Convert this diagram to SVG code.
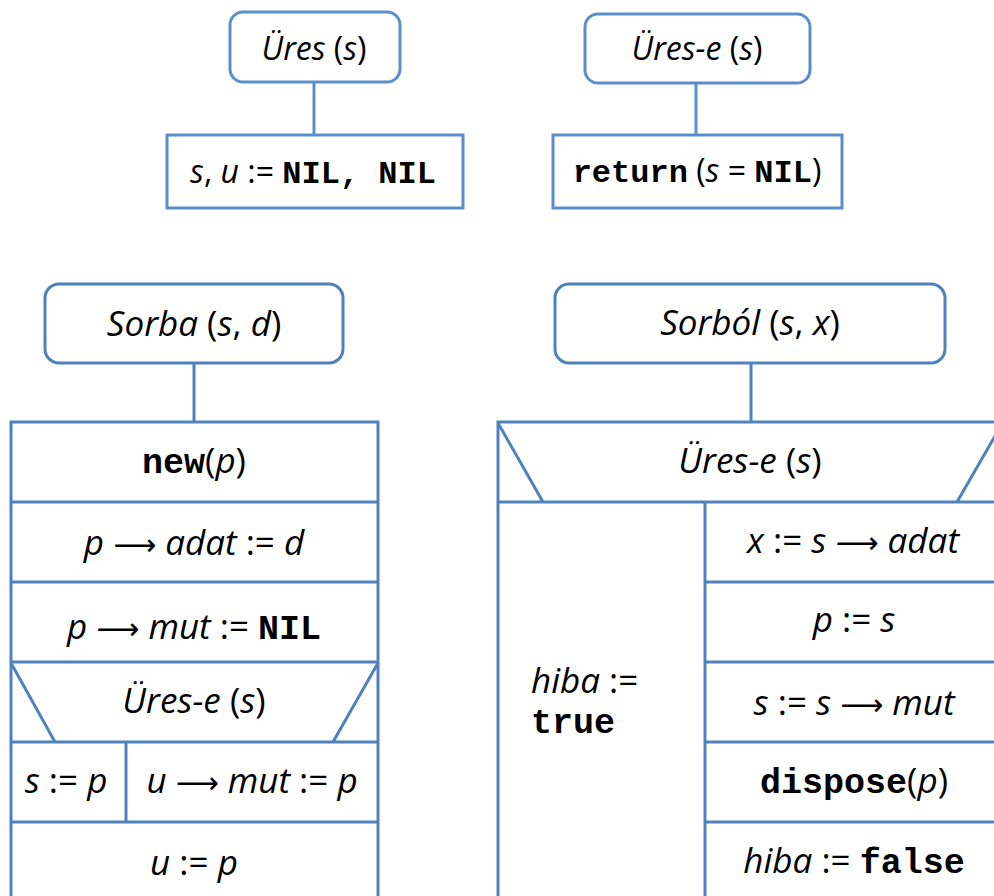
<svg xmlns="http://www.w3.org/2000/svg" width="994" height="896" viewBox="0 0 994 896">
  <style>
    .ln { fill: #ffffff; stroke: #4f81bd; stroke-width: 3; }
    .lt { fill: #ffffff; stroke: #5b8fcc; stroke-width: 3; }
    .s { fill: none; stroke: #4f81bd; stroke-width: 3; }
    .c { fill: none; stroke: #4f81bd; stroke-width: 3; }
    .ct { fill: none; stroke: #5b8fcc; stroke-width: 3; }
    .t { font-family: "Open Sans", "Liberation Sans", sans-serif; fill: #000000; text-anchor: middle; }
    .sm { font-size: 32px; }
    .lg { font-size: 35px; }
    .i { font-style: italic; }
    .m { font-family: "Liberation Mono", "DejaVu Sans Mono", monospace; font-weight: bold; font-style: normal; }
    .sm .m { font-size: 32px; }
    .lg .m { font-size: 35px; }
    .a { font-family: "DejaVu Sans", sans-serif; font-style: normal; font-size: 30px; }
  </style>

  <!-- connectors -->
  <g id="connectors">
    <line class="ct" x1="314" y1="82" x2="314" y2="135"/>
    <line class="ct" x1="696" y1="83" x2="696" y2="135"/>
    <line class="c" x1="194" y1="363" x2="194" y2="422"/>
    <line class="c" x1="751" y1="363" x2="751" y2="422"/>
  </g>

  <!-- Üres (s) -->
  <g id="ures-head">
    <rect class="lt" x="230" y="12" width="170" height="70" rx="13"/>
    <text class="t sm" x="314" y="60"><tspan class="i">Üres</tspan> (<tspan class="i">s</tspan>)</text>
  </g>
  <g id="ures-body">
    <rect class="lt" x="167" y="135" width="296" height="73"/>
    <text class="t sm" x="313" y="183"><tspan class="i">s</tspan>, <tspan class="i">u</tspan> := <tspan class="m">NIL, NIL</tspan></text>
  </g>

  <!-- Üres-e (s) -->
  <g id="urese-head">
    <rect class="lt" x="585" y="14" width="225" height="69" rx="13"/>
    <text class="t sm" x="697" y="60"><tspan class="i">Üres-e</tspan> (<tspan class="i">s</tspan>)</text>
  </g>
  <g id="urese-body">
    <rect class="lt" x="553" y="135" width="289" height="73"/>
    <text class="t sm" x="697" y="182"><tspan class="m">return</tspan> (<tspan class="i">s</tspan> = <tspan class="m">NIL</tspan>)</text>
  </g>

  <!-- Sorba (s, d) -->
  <g id="sorba-head">
    <rect class="ln" x="45" y="284" width="298" height="79" rx="14"/>
    <text class="t lg" x="194" y="336"><tspan class="i">Sorba</tspan> (<tspan class="i">s</tspan>, <tspan class="i">d</tspan>)</text>
  </g>
  <g id="sorba-body">
    <rect x="11" y="422" width="367" height="480" fill="#ffffff"/>
    <path class="s" d="M11,902 V422 H378 V902"/>
    <path class="s" d="M11,502 H378 M11,582 H378 M11,662 H378 M11,742 H378 M11,822 H378"/>
    <path class="s" d="M11,663 L55,742 M378,663 L333,742 M126,742 V822"/>
    <text class="t lg" x="194" y="473"><tspan class="m">new</tspan>(<tspan class="i">p</tspan>)</text>
    <text class="t lg" x="194" y="555"><tspan class="i">p</tspan> <tspan class="a">⟶</tspan> <tspan class="i">adat</tspan> := <tspan class="i">d</tspan></text>
    <text class="t lg" x="194" y="639"><tspan class="i">p</tspan> <tspan class="a">⟶</tspan> <tspan class="i">mut</tspan> := <tspan class="m">NIL</tspan></text>
    <text class="t lg" x="194" y="713"><tspan class="i">Üres-e</tspan> (<tspan class="i">s</tspan>)</text>
    <text class="t lg" x="66" y="793"><tspan class="i">s</tspan> := <tspan class="i">p</tspan></text>
    <text class="t lg" x="252" y="793"><tspan class="i">u</tspan> <tspan class="a">⟶</tspan> <tspan class="i">mut</tspan> := <tspan class="i">p</tspan></text>
    <text class="t lg" x="194" y="875"><tspan class="i">u</tspan> := <tspan class="i">p</tspan></text>
  </g>

  <!-- Sorból (s, x) -->
  <g id="sorbol-head">
    <rect class="ln" x="555" y="284" width="390" height="79" rx="14"/>
    <text class="t lg" x="750" y="335"><tspan class="i">Sorból</tspan> (<tspan class="i">s</tspan>, <tspan class="i">x</tspan>)</text>
  </g>
  <g id="sorbol-body">
    <rect x="498" y="422" width="510" height="480" fill="#ffffff"/>
    <path class="s" d="M498,902 V422 H1006"/>
    <path class="s" d="M498,502 H1006 M498,423 L543,502 M1003,422 L957,502 M705,502 V902"/>
    <path class="s" d="M705,582 H1006 M705,662 H1006 M705,742 H1006 M705,822 H1006"/>
    <text class="t lg" x="750" y="473"><tspan class="i">Üres-e</tspan> (<tspan class="i">s</tspan>)</text>
    <text class="t lg" x="531" y="693" style="text-anchor:start"><tspan class="i">hiba</tspan> :=</text>
    <text class="t lg" x="531" y="733" style="text-anchor:start"><tspan class="m">true</tspan></text>
    <text class="t lg" x="853" y="553"><tspan class="i">x</tspan> := <tspan class="i">s</tspan> <tspan class="a">⟶</tspan> <tspan class="i">adat</tspan></text>
    <text class="t lg" x="854" y="632"><tspan class="i">p</tspan> := <tspan class="i">s</tspan></text>
    <text class="t lg" x="854" y="715"><tspan class="i">s</tspan> := <tspan class="i">s</tspan> <tspan class="a">⟶</tspan> <tspan class="i">mut</tspan></text>
    <text class="t lg" x="854" y="793"><tspan class="m">dispose</tspan>(<tspan class="i">p</tspan>)</text>
    <text class="t lg" x="854" y="873"><tspan class="i">hiba</tspan> := <tspan class="m">false</tspan></text>
  </g>
</svg>
